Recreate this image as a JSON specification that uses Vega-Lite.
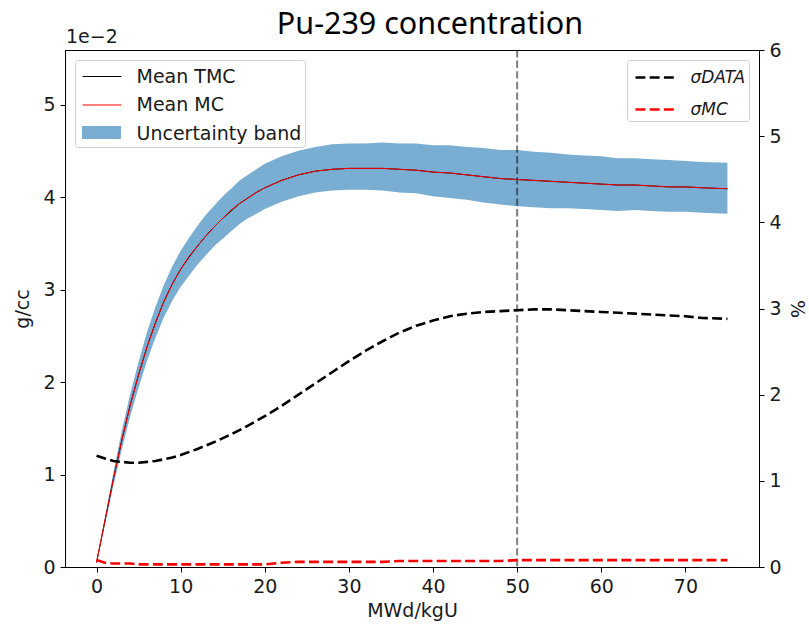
{
  "$schema": "https://vega.github.io/schema/vega-lite/v6.json",
  "width": 694,
  "height": 517,
  "autosize": {"type": "none"},
  "padding": {"left": 65, "top": 50, "right": 50, "bottom": 61},
  "background": "white",
  "config": {
    "view": {"stroke": "black", "strokeWidth": 1},
    "font": "DejaVu Sans",
    "axis": {
      "labelFont": "DejaVu Sans", "labelFontSize": 19, "labelColor": "#1a1a1a",
      "titleFont": "DejaVu Sans", "titleFontSize": 19, "titleFontWeight": "normal", "titleColor": "#1a1a1a",
      "domainColor": "black", "domainWidth": 1, "tickColor": "black", "tickSize": 5, "tickWidth": 1,
      "grid": false, "labelPadding": 5, "labelFlush": false
    },
    "legend": {
      "labelFont": "DejaVu Sans", "labelFontSize": 19, "labelColor": "#1a1a1a", "labelLimit": 300,
      "fillColor": "white", "strokeColor": "#d0d0d0", "cornerRadius": 3,
      "padding": 3, "offset": 10, "symbolOffset": 10.5, "labelOffset": 21, "symbolSize": 676
    }
  },
  "title": {"text": "Pu-239 concentration", "font": "Noto Sans", "fontSize": 30.5, "fontWeight": "normal", "color": "black", "anchor": "middle", "frame": "group", "dx": 18, "offset": -12},
  "datasets": {
    "mean": [
      {"x": 0, "tmc": 0.0005, "mc": 0.0005, "lo": 0.0004, "hi": 0.0006},
      {"x": 1, "tmc": 0.0050, "mc": 0.0050, "lo": 0.0046, "hi": 0.0054},
      {"x": 2, "tmc": 0.0095, "mc": 0.0095, "lo": 0.0088, "hi": 0.0102},
      {"x": 3, "tmc": 0.0137, "mc": 0.0137, "lo": 0.0127, "hi": 0.0147},
      {"x": 4, "tmc": 0.0175, "mc": 0.0175, "lo": 0.0163, "hi": 0.0187},
      {"x": 5, "tmc": 0.0208, "mc": 0.0208, "lo": 0.0194, "hi": 0.0222},
      {"x": 6, "tmc": 0.0238, "mc": 0.0238, "lo": 0.0223, "hi": 0.0254},
      {"x": 7, "tmc": 0.0264, "mc": 0.0264, "lo": 0.0248, "hi": 0.0281},
      {"x": 8, "tmc": 0.0287, "mc": 0.0287, "lo": 0.0270, "hi": 0.0305},
      {"x": 9, "tmc": 0.0306, "mc": 0.0306, "lo": 0.0288, "hi": 0.0325},
      {"x": 10, "tmc": 0.0322, "mc": 0.0322, "lo": 0.0303, "hi": 0.0342},
      {"x": 11, "tmc": 0.0335, "mc": 0.0336, "lo": 0.0315, "hi": 0.0356},
      {"x": 12, "tmc": 0.0347, "mc": 0.0347, "lo": 0.0327, "hi": 0.0369},
      {"x": 13, "tmc": 0.0358, "mc": 0.0358, "lo": 0.0337, "hi": 0.0381},
      {"x": 14, "tmc": 0.0368, "mc": 0.0368, "lo": 0.0347, "hi": 0.0391},
      {"x": 15, "tmc": 0.0377, "mc": 0.0377, "lo": 0.0355, "hi": 0.0401},
      {"x": 16, "tmc": 0.0385, "mc": 0.0386, "lo": 0.0363, "hi": 0.0409},
      {"x": 17, "tmc": 0.0393, "mc": 0.0393, "lo": 0.0371, "hi": 0.0418},
      {"x": 18, "tmc": 0.0399, "mc": 0.0399, "lo": 0.0377, "hi": 0.0424},
      {"x": 19, "tmc": 0.0405, "mc": 0.0405, "lo": 0.0382, "hi": 0.0430},
      {"x": 20, "tmc": 0.0410, "mc": 0.0410, "lo": 0.0387, "hi": 0.0436},
      {"x": 22, "tmc": 0.0418, "mc": 0.0418, "lo": 0.0395, "hi": 0.0444},
      {"x": 24, "tmc": 0.0424, "mc": 0.0424, "lo": 0.0401, "hi": 0.0450},
      {"x": 26, "tmc": 0.0428, "mc": 0.0428, "lo": 0.0405, "hi": 0.0454},
      {"x": 28, "tmc": 0.0430, "mc": 0.0430, "lo": 0.0407, "hi": 0.0457},
      {"x": 30, "tmc": 0.0431, "mc": 0.0431, "lo": 0.0408, "hi": 0.0458},
      {"x": 32, "tmc": 0.0431, "mc": 0.0431, "lo": 0.0408, "hi": 0.0458},
      {"x": 34, "tmc": 0.0431, "mc": 0.0431, "lo": 0.0407, "hi": 0.0459},
      {"x": 36, "tmc": 0.0430, "mc": 0.0430, "lo": 0.0405, "hi": 0.0458},
      {"x": 38, "tmc": 0.0429, "mc": 0.0429, "lo": 0.0404, "hi": 0.0458},
      {"x": 40, "tmc": 0.0427, "mc": 0.0427, "lo": 0.0401, "hi": 0.0456},
      {"x": 42, "tmc": 0.0426, "mc": 0.0426, "lo": 0.0399, "hi": 0.0456},
      {"x": 44, "tmc": 0.0424, "mc": 0.0424, "lo": 0.0397, "hi": 0.0454},
      {"x": 46, "tmc": 0.0422, "mc": 0.0422, "lo": 0.0394, "hi": 0.0453},
      {"x": 48, "tmc": 0.0420, "mc": 0.0420, "lo": 0.0392, "hi": 0.0451},
      {"x": 50, "tmc": 0.0419, "mc": 0.0419, "lo": 0.0390, "hi": 0.0451},
      {"x": 52, "tmc": 0.0418, "mc": 0.0418, "lo": 0.0389, "hi": 0.0449},
      {"x": 54, "tmc": 0.0417, "mc": 0.0417, "lo": 0.0388, "hi": 0.0448},
      {"x": 56, "tmc": 0.0416, "mc": 0.0416, "lo": 0.0388, "hi": 0.0446},
      {"x": 58, "tmc": 0.0415, "mc": 0.0415, "lo": 0.0387, "hi": 0.0445},
      {"x": 60, "tmc": 0.0414, "mc": 0.0414, "lo": 0.0386, "hi": 0.0444},
      {"x": 62, "tmc": 0.0413, "mc": 0.0413, "lo": 0.0385, "hi": 0.0442},
      {"x": 64, "tmc": 0.0413, "mc": 0.0413, "lo": 0.0386, "hi": 0.0442},
      {"x": 66, "tmc": 0.0412, "mc": 0.0412, "lo": 0.0385, "hi": 0.0441},
      {"x": 68, "tmc": 0.0411, "mc": 0.0411, "lo": 0.0384, "hi": 0.0440},
      {"x": 70, "tmc": 0.0411, "mc": 0.0411, "lo": 0.0384, "hi": 0.0439},
      {"x": 72, "tmc": 0.0410, "mc": 0.0410, "lo": 0.0383, "hi": 0.0438},
      {"x": 75, "tmc": 0.0409, "mc": 0.0409, "lo": 0.0382, "hi": 0.0437}
    ],
    "sigma": [
      {"x": 0, "σDATA": 1.29, "σMC": 0.08},
      {"x": 1, "σDATA": 1.26, "σMC": 0.05},
      {"x": 2, "σDATA": 1.23, "σMC": 0.04},
      {"x": 3, "σDATA": 1.22, "σMC": 0.04},
      {"x": 4, "σDATA": 1.21, "σMC": 0.04},
      {"x": 5, "σDATA": 1.21, "σMC": 0.03},
      {"x": 6, "σDATA": 1.22, "σMC": 0.03},
      {"x": 7, "σDATA": 1.23, "σMC": 0.03},
      {"x": 8, "σDATA": 1.25, "σMC": 0.03},
      {"x": 9, "σDATA": 1.27, "σMC": 0.03},
      {"x": 10, "σDATA": 1.30, "σMC": 0.03},
      {"x": 12, "σDATA": 1.37, "σMC": 0.03},
      {"x": 14, "σDATA": 1.45, "σMC": 0.03},
      {"x": 16, "σDATA": 1.54, "σMC": 0.03},
      {"x": 18, "σDATA": 1.64, "σMC": 0.03},
      {"x": 20, "σDATA": 1.75, "σMC": 0.03},
      {"x": 22, "σDATA": 1.87, "σMC": 0.05},
      {"x": 24, "σDATA": 2.00, "σMC": 0.06},
      {"x": 26, "σDATA": 2.13, "σMC": 0.06},
      {"x": 28, "σDATA": 2.26, "σMC": 0.06},
      {"x": 30, "σDATA": 2.39, "σMC": 0.06},
      {"x": 32, "σDATA": 2.51, "σMC": 0.06},
      {"x": 34, "σDATA": 2.62, "σMC": 0.06},
      {"x": 36, "σDATA": 2.72, "σMC": 0.07},
      {"x": 38, "σDATA": 2.80, "σMC": 0.07},
      {"x": 40, "σDATA": 2.86, "σMC": 0.07},
      {"x": 42, "σDATA": 2.91, "σMC": 0.07},
      {"x": 44, "σDATA": 2.94, "σMC": 0.07},
      {"x": 46, "σDATA": 2.96, "σMC": 0.07},
      {"x": 48, "σDATA": 2.97, "σMC": 0.07},
      {"x": 50, "σDATA": 2.98, "σMC": 0.08},
      {"x": 52, "σDATA": 2.99, "σMC": 0.08},
      {"x": 54, "σDATA": 2.99, "σMC": 0.08},
      {"x": 56, "σDATA": 2.98, "σMC": 0.08},
      {"x": 58, "σDATA": 2.97, "σMC": 0.08},
      {"x": 60, "σDATA": 2.96, "σMC": 0.08},
      {"x": 62, "σDATA": 2.95, "σMC": 0.08},
      {"x": 64, "σDATA": 2.94, "σMC": 0.08},
      {"x": 66, "σDATA": 2.93, "σMC": 0.08},
      {"x": 68, "σDATA": 2.92, "σMC": 0.08},
      {"x": 70, "σDATA": 2.91, "σMC": 0.08},
      {"x": 72, "σDATA": 2.89, "σMC": 0.08},
      {"x": 75, "σDATA": 2.88, "σMC": 0.08}
    ]
  },
  "layer": [
    {
      "data": {"name": "mean"},
      "layer": [
        {
          "mark": {"type": "area", "opacity": 0.6},
          "encoding": {
            "x": {"field": "x", "type": "quantitative", "scale": {"domain": [-3.75, 78.75], "nice": false, "zero": false},
                  "axis": {"values": [0, 10, 20, 30, 40, 50, 60, 70], "title": "MWd/kgU", "titlePadding": 5}},
            "y": {"field": "lo", "type": "quantitative", "scale": {"domain": [0, 0.0559], "nice": false, "zero": false},
                  "axis": {"orient": "left", "values": [0, 0.01, 0.02, 0.03, 0.04, 0.05], "labelExpr": "format(datum.value*100, '.0f')", "title": "g/cc", "titlePadding": 10}},
            "y2": {"field": "hi"},
            "color": {"datum": "Uncertainty band", "type": "nominal",
              "scale": {"domain": ["Uncertainty band"], "range": ["#1f77b4"]},
              "legend": {"title": null, "orient": "none", "legendX": 13, "legendY": 69.5, "padding": 0, "zindex": 2,
                "fillColor": "transparent", "strokeColor": "transparent", "labelExpr": "''",
                "symbolType": "M-1.5,-0.5H1.5V0.5H-1.5Z", "symbolStrokeWidth": 0}}
          }
        },
        {
          "mark": {"type": "line", "strokeWidth": 1},
          "encoding": {
            "x": {"field": "x", "type": "quantitative"},
            "y": {"field": "tmc", "type": "quantitative"},
            "stroke": {"datum": "Mean TMC", "type": "nominal",
              "scale": {"domain": ["Mean TMC", "Mean MC", "Uncertainty band"], "range": ["black", "red", "transparent"]},
              "legend": {"title": null, "orient": "top-left", "rowPadding": 4.5, "fillColor": "transparent", "zindex": 1,
                "symbolType": "M-1.5,0H1.5", "symbolStrokeWidth": 1, "symbolOpacity": 1, "symbolFillColor": "transparent"}}
          }
        },
        {
          "mark": {"type": "line", "strokeWidth": 1},
          "encoding": {
            "x": {"field": "x", "type": "quantitative"},
            "y": {"field": "mc", "type": "quantitative"},
            "stroke": {"datum": "Mean MC", "type": "nominal"}
          }
        },
        {
          "data": {"values": [{"event": "50 MWd/kgU"}]},
          "mark": {"type": "rule", "color": "black", "opacity": 0.5, "strokeWidth": 2, "strokeDash": [7.4, 3.2]},
          "encoding": {"x": {"datum": 50, "type": "quantitative"}}
        },
        {
          "data": {"values": [{"label": "1e−2"}]},
          "mark": {"type": "text", "align": "left", "baseline": "alphabetic", "dx": 1, "dy": -7, "fontSize": 19, "font": "DejaVu Sans", "color": "#1a1a1a"},
          "encoding": {
            "x": {"datum": -3.75, "type": "quantitative"},
            "y": {"datum": 0.0559, "type": "quantitative"},
            "text": {"field": "label"}
          }
        }
      ]
    },
    {
      "data": {"name": "sigma"},
      "transform": [{"fold": ["σDATA", "σMC"], "as": ["series", "pct"]}],
      "mark": {"type": "line", "strokeWidth": 2.6, "strokeDash": [9.9, 4.3]},
      "encoding": {
        "x": {"field": "x", "type": "quantitative"},
        "y": {"field": "pct", "type": "quantitative", "scale": {"domain": [0, 6], "nice": false, "zero": false},
              "axis": {"orient": "right", "values": [0, 1, 2, 3, 4, 5, 6], "title": "%", "titlePadding": 5}},
        "stroke": {"field": "series", "type": "nominal",
          "scale": {"domain": ["σDATA", "σMC"], "range": ["black", "red"]},
          "legend": {"title": null, "orient": "top-right", "rowPadding": 9, "labelFontSize": 17, "labelFontStyle": "italic",
            "symbolType": "M-1.5,0H1.5", "symbolStrokeWidth": 2.6, "symbolDash": [9.9, 4.3], "symbolFillColor": "transparent"}}
      }
    }
  ],
  "resolve": {"scale": {"y": "independent", "stroke": "independent"}, "legend": {"stroke": "independent"}}
}
